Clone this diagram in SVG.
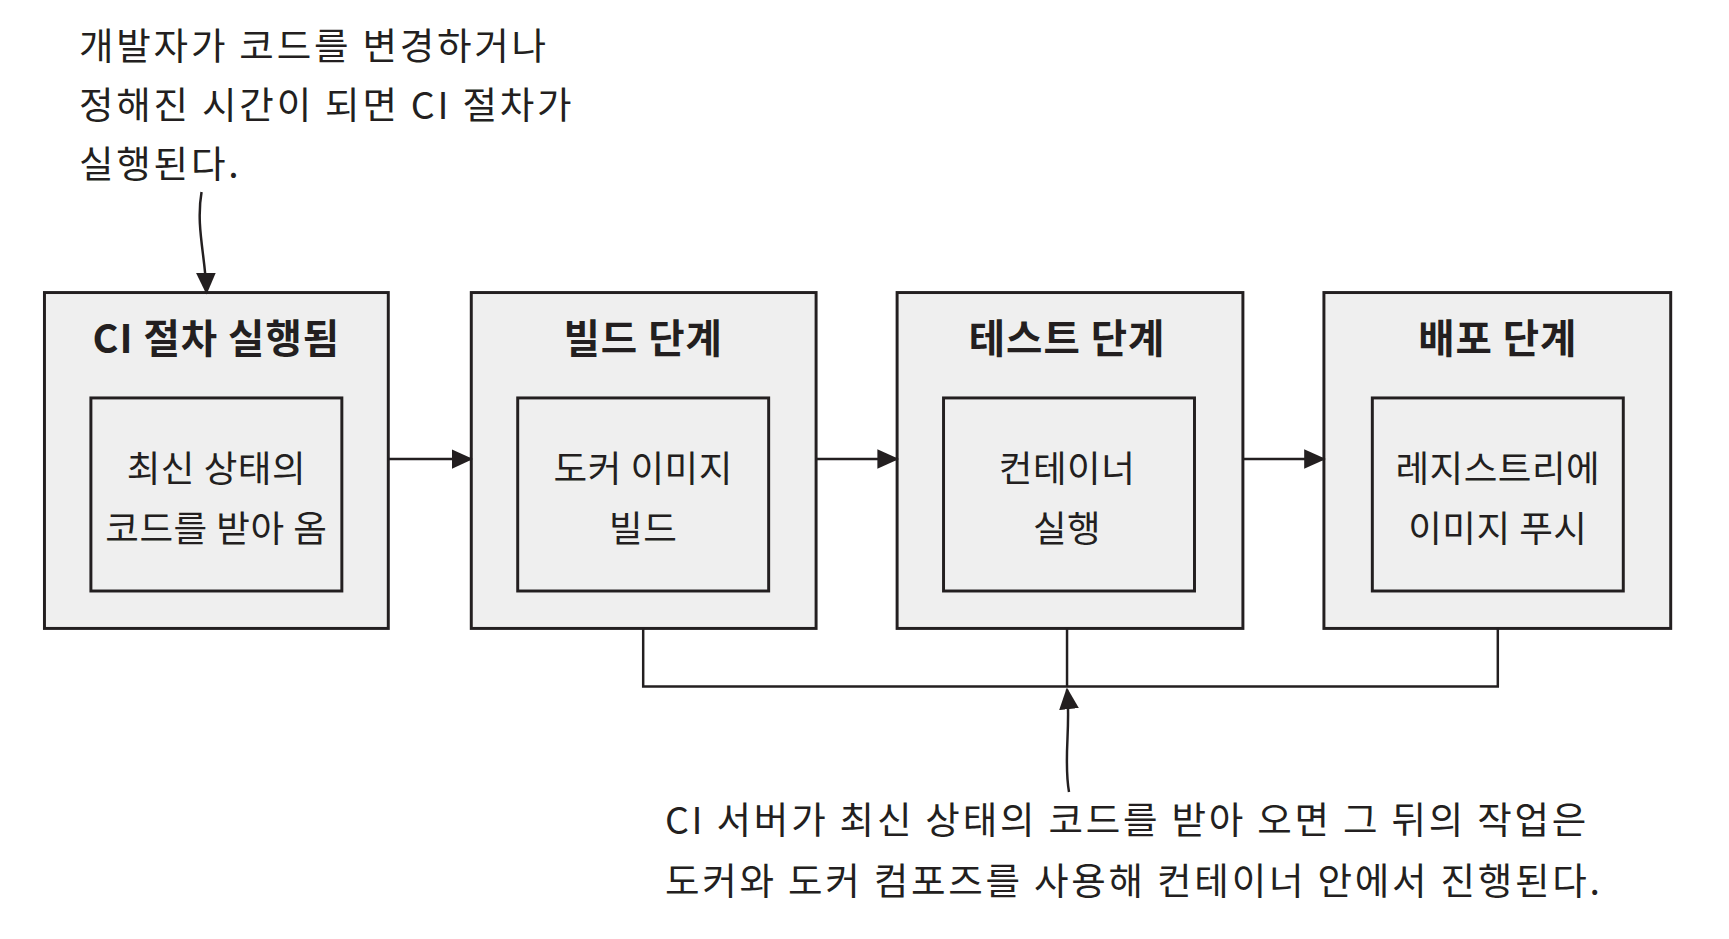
<svg xmlns="http://www.w3.org/2000/svg" width="1729" height="939" viewBox="0 0 1729 939">
<style>
.o{fill:#efefef;stroke:#231f20;stroke-width:3}
.i{fill:#efefef;stroke:#231f20;stroke-width:3}
text{font-family:"Noto Sans CJK KR","Liberation Sans",sans-serif;fill:#231f20;text-anchor:middle}
.t{font-size:40px;font-weight:bold;letter-spacing:1px}
.b{font-size:37px;letter-spacing:0.5px}
.n{font-size:38px;text-anchor:start;letter-spacing:2.8px}
.l{fill:none;stroke:#231f20;stroke-width:2.5}
</style>
<defs>
<marker id="A" markerWidth="22" markerHeight="20" refX="20" refY="10" orient="auto" markerUnits="userSpaceOnUse"><path d="M0,0 L22,10 L0,20 Z" fill="#231f20"/></marker></defs>
<g transform="scale(0.988 0.985)">
<g id="note-top"><text class="n" x="80" y="61">개발자가 코드를 변경하거나</text><text class="n" x="80" y="121">정해진 시간이 되면 CI 절차가</text><text class="n" x="80" y="181">실행된다.</text></g>
<g id="n1"><rect class="o" x="45" y="297" width="348" height="341"/><text class="t" x="219" y="358">CI 절차 실행됨</text><rect class="i" x="92" y="404" width="254" height="196"/><text class="b" x="219" y="489">최신 상태의</text><text class="b" x="219" y="550">코드를 받아 옴</text></g>
<g id="n2"><rect class="o" x="477" y="297" width="349" height="341"/><text class="t" x="651" y="358">빌드 단계</text><rect class="i" x="524" y="404" width="254" height="196"/><text class="b" x="651" y="489">도커 이미지</text><text class="b" x="651" y="550">빌드</text></g>
<g id="n3"><rect class="o" x="908" y="297" width="350" height="341"/><text class="t" x="1080" y="358">테스트 단계</text><rect class="i" x="955" y="404" width="254" height="196"/><text class="b" x="1080" y="489">컨테이너</text><text class="b" x="1080" y="550">실행</text></g>
<g id="n4"><rect class="o" x="1340" y="297" width="351" height="341"/><text class="t" x="1516" y="358">배포 단계</text><rect class="i" x="1389" y="404" width="254" height="196"/><text class="b" x="1516" y="489">레지스트리에</text><text class="b" x="1516" y="550">이미지 푸시</text></g>
<g id="note-bottom"><text class="n" x="673" y="847">CI 서버가 최신 상태의 코드를 받아 오면 그 뒤의 작업은</text><text class="n" x="673" y="909">도커와 도커 컴포즈를 사용해 컨테이너 안에서 진행된다.</text></g>
<g id="connectors">
<path class="l" d="M393,466 H477" marker-end="url(#A)"/>
<path class="l" d="M826,466 H908" marker-end="url(#A)"/>
<path class="l" d="M1258,466 H1340" marker-end="url(#A)"/>
<path class="l" d="M651,638 V697 H1516 V638 M1080,638 V697"/>
<path class="l" d="M1082,804 C1076,770 1084,740 1080,700" marker-end="url(#A)"/>
<path class="l" d="M204,195 C198,230 208,260 209,297" marker-end="url(#A)"/>
</g>
</g>
</svg>
